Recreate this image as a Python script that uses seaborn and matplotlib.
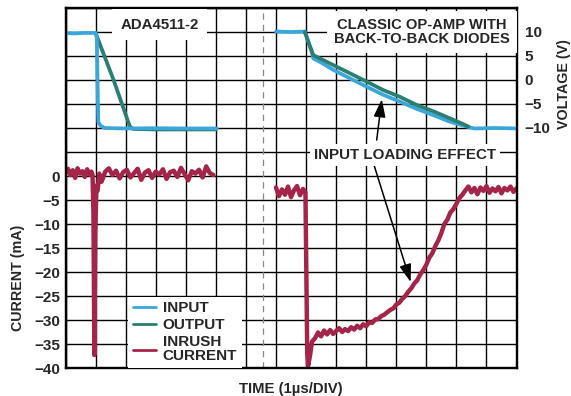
import numpy as np
import pandas as pd
import seaborn as sns
import matplotlib.pyplot as plt

# time axis in divisions (1 us/div), 15 divisions across
# ADA4511-2 side
in_left_t = [0.0, 0.3, 0.6, 1.0, 1.04, 1.09, 1.18, 1.31, 2.0, 3.0, 4.0, 5.03]
in_left_v = [9.8, 9.7, 9.8, 9.8, 9.0, -8.8, -9.6, -10.0, -10.1, -10.05, -10.1, -10.1]
out_left_t = [1.0, 1.6, 2.14, 2.25, 3.0, 4.0, 5.0]
out_left_v = [9.8, 0.0, -9.7, -10.2, -10.3, -10.3, -10.3]
cur_left_t = [0.0, 0.08, 0.16, 0.24, 0.32, 0.4, 0.48, 0.56, 0.64, 0.72, 0.8, 0.86,
              0.9, 0.93, 0.96, 0.99, 1.03, 1.07, 1.12,
              1.2, 1.32, 1.44, 1.56, 1.68, 1.8, 1.92, 2.04, 2.16, 2.28, 2.4, 2.52,
              2.64, 2.76, 2.88, 3.0, 3.12, 3.24, 3.36, 3.48, 3.6, 3.72, 3.84, 3.96,
              4.08, 4.2, 4.32, 4.44, 4.56, 4.68, 4.8, 4.92]
cur_left_i = [0.8, 1.5, 0.2, 1.2, -0.4, 1.6, 0.5, 1.0, -0.2, 1.4, 0.3, 0.9,
              0.2, -8.0, -37.3, -12.0, -2.0, -3.0, 0.5,
              -1.2, 0.9, 1.6, 0.2, 1.1, -0.5, 0.8, 1.3, -0.3, 0.6, 1.5, -0.8,
              0.7, 1.2, -0.4, 0.9, 0.3, 1.4, -0.6, 0.8, 1.1, -0.2, 1.7, 0.4,
              -0.9, 1.0, 0.5, 1.3, -0.3, 2.0, 0.6, 0.2]

# classic op-amp side
in_right_t = [7.0, 7.5, 7.96, 8.05, 8.19, 8.24, 8.46, 8.91, 9.46, 10.02, 10.57,
              11.12, 11.68, 12.23, 12.79, 13.34, 13.6, 14.3, 15.0]
in_right_v = [10.1, 10.0, 10.1, 8.5, 5.9, 4.5, 3.8, 2.1, 0.35, -1.4, -3.1,
              -4.5, -6.0, -7.3, -8.7, -9.7, -10.1, -10.0, -10.1]
out_right_t = [7.96, 8.1, 8.24, 8.46, 8.91, 9.46, 10.02, 10.57, 11.12, 11.68,
               12.23, 12.79, 13.23, 13.4]
out_right_v = [10.0, 7.5, 5.2, 4.5, 3.1, 1.4, -0.35, -2.1, -3.5, -5.2,
               -6.5, -8.0, -9.2, -9.7]
cur_right_t = [7.0, 7.1, 7.2, 7.3, 7.4, 7.5, 7.6, 7.7, 7.8, 7.9, 7.98,
               8.01, 8.04, 8.07, 8.13, 8.2,
               8.3, 8.4, 8.5, 8.6, 8.7, 8.8, 8.9, 9.0, 9.1, 9.2, 9.3, 9.4, 9.5,
               9.6, 9.7, 9.8, 9.9, 10.0, 10.1, 10.2, 10.3, 10.4, 10.5, 10.6,
               10.7, 10.8, 10.9, 11.0, 11.1, 11.2, 11.3, 11.4, 11.5, 11.6, 11.7,
               11.8, 11.9, 12.0, 12.1, 12.2, 12.3, 12.4, 12.5, 12.6, 12.7, 12.8,
               12.9, 13.0, 13.1, 13.2, 13.3,
               13.4, 13.5, 13.6, 13.7, 13.8, 13.9, 14.0, 14.1, 14.2, 14.3, 14.4,
               14.5, 14.6, 14.7, 14.8, 14.9, 15.0]
cur_right_i = [-2.4, -4.2, -2.8, -3.9, -2.2, -4.4, -3.0, -2.1, -4.0, -2.7, -3.4,
               -20.0, -37.0, -39.5, -37.5, -34.5,
               -33.8, -32.6, -33.4, -32.2, -33.0, -32.1, -32.9, -32.3, -31.7,
               -32.5, -31.9, -32.3, -31.5, -32.0, -31.2, -31.7, -30.9, -31.3,
               -30.5, -30.6, -29.9, -29.8, -29.2, -28.9, -28.4, -27.9, -27.6,
               -26.8, -26.4, -25.6, -25.0, -24.1, -23.4, -22.4, -21.7, -20.5,
               -19.6, -18.5, -17.0, -16.1, -14.6, -13.4, -11.9, -10.0, -9.1,
               -7.6, -6.9, -5.8, -4.6, -3.9, -3.0,
               -2.2, -3.4, -2.5, -3.8, -2.4, -3.1, -2.1, -3.5, -2.6, -3.2, -2.3,
               -3.6, -2.5, -3.0, -2.2, -3.3, -2.6]

current_ticks = list(range(-40, 36, 5))
current_labels = ['\u2212' + str(-v) if v < 0 else (str(v) if v == 0 else '')
                  for v in current_ticks]
voltage_ticks = [10, 5, 0, -5, -10]
voltage_labels = ['10', '5', '0', '\u22125', '\u221210']

BLUE = '#3ba6d9'
GREEN = '#2a7f72'
RED = '#a3264a'

sns.set_style('white')
plt.rcParams['font.family'] = ['Liberation Sans', 'DejaVu Sans']
plt.rcParams['font.weight'] = 'bold'

fig = plt.figure(figsize=(5.71, 3.96), dpi=100)
ax = fig.add_axes([65.5 / 571, 28 / 396, 451 / 571, 360 / 396])
ax2 = ax.twinx()

# current (left axis)
sns.lineplot(x=cur_left_t, y=cur_left_i, ax=ax, color=RED, lw=3.2,
             label='INRUSH\nCURRENT', legend=False)
sns.lineplot(x=cur_right_t, y=cur_right_i, ax=ax, color=RED, lw=3.2, legend=False)

# voltages (right axis)
sns.lineplot(x=out_left_t, y=out_left_v, ax=ax2, color=GREEN, lw=2.7,
             label='OUTPUT', legend=False)
sns.lineplot(x=in_left_t, y=in_left_v, ax=ax2, color=BLUE, lw=2.7,
             label='INPUT', legend=False)
sns.lineplot(x=in_right_t, y=in_right_v, ax=ax2, color=BLUE, lw=2.7, legend=False)
sns.lineplot(x=out_right_t, y=out_right_v, ax=ax2, color=GREEN, lw=2.7, legend=False)

ax.set_xlim(0, 15)
ax.set_ylim(-40, 35)
ax2.set_ylim(-60, 15)
ax.set_xticks(range(16))
ax.set_xticklabels([])
ax.set_yticks(current_ticks)
ax.set_yticklabels(current_labels)
ax2.set_yticks(voltage_ticks)
ax2.set_yticklabels(voltage_labels)
ax.tick_params(length=0, labelsize=11, pad=4)
ax2.tick_params(length=0, labelsize=11, pad=6)
ax.grid(True, color='black', lw=1.0)
ax2.grid(False)
ax.axvline(6.56, color='#888888', lw=0.9, ls=(0, (5, 4)))
for a in (ax, ax2):
    for s in a.spines.values():
        s.set_color('black')
        s.set_linewidth(1.6)

ax.set_xlabel('TIME (1\u00b5s/DIV)', fontsize=10.7, fontweight='bold')
ax.xaxis.set_label_coords(0.5, -0.04)
ax.set_ylabel('CURRENT (mA)', fontsize=10.3, fontweight='bold')
ax.yaxis.set_label_coords(-0.09, 0.25)
ax2.set_ylabel('VOLTAGE (V)', fontsize=10.3, fontweight='bold')
ax2.yaxis.set_label_coords(1.09, 0.789)

box = dict(facecolor='white', edgecolor='none', pad=6)
ax2.text(3.14, 11.5, 'ADA4511-2', ha='center', va='center', fontsize=10.8,
         fontweight='bold', bbox=box, zorder=5)
ax2.text(11.85, 10.0, 'CLASSIC OP-AMP WITH\nBACK-TO-BACK DIODES', ha='center',
         va='center', fontsize=10.6, fontweight='bold', linespacing=1.0,
         bbox=dict(facecolor='white', edgecolor='none', pad=5), zorder=5)

arrow = dict(arrowstyle='-|>,head_length=0.9,head_width=0.3', color='black',
             lw=1.1, mutation_scale=12, shrinkA=0, shrinkB=0)
ax2.annotate('', xy=(10.52, -4.0), xytext=(10.35, -12.5), arrowprops=arrow, zorder=4)
ax2.annotate('', xy=(11.48, -42.1), xytext=(10.26, -17.7), arrowprops=arrow, zorder=4)
ax2.text(11.29, -15.6, 'INPUT LOADING EFFECT', ha='center', va='center',
         fontsize=10.9, fontweight='bold',
         bbox=dict(facecolor='white', edgecolor='none', pad=3), zorder=5)

h2, l2 = ax2.get_legend_handles_labels()
h1, l1 = ax.get_legend_handles_labels()
order = {'INPUT': 0, 'OUTPUT': 1, 'INRUSH\nCURRENT': 2}
pairs = sorted(zip(h2 + h1, l2 + l1), key=lambda p: order[p[1]])
leg = ax2.legend([p[0] for p in pairs], [p[1] for p in pairs], loc='lower left',
                 bbox_to_anchor=(0.139, 0.0), borderaxespad=0, fontsize=11,
                 frameon=True, facecolor='white', edgecolor='none', framealpha=1,
                 fancybox=False, handlelength=1.55, handletextpad=0.4,
                 labelspacing=0.2, borderpad=0.3)
for line in leg.get_lines():
    line.set_linewidth(2.0)
for t in leg.get_texts():
    t.set_linespacing(1.0)
leg.set_zorder(6)

plt.savefig('out.png', dpi=100)
